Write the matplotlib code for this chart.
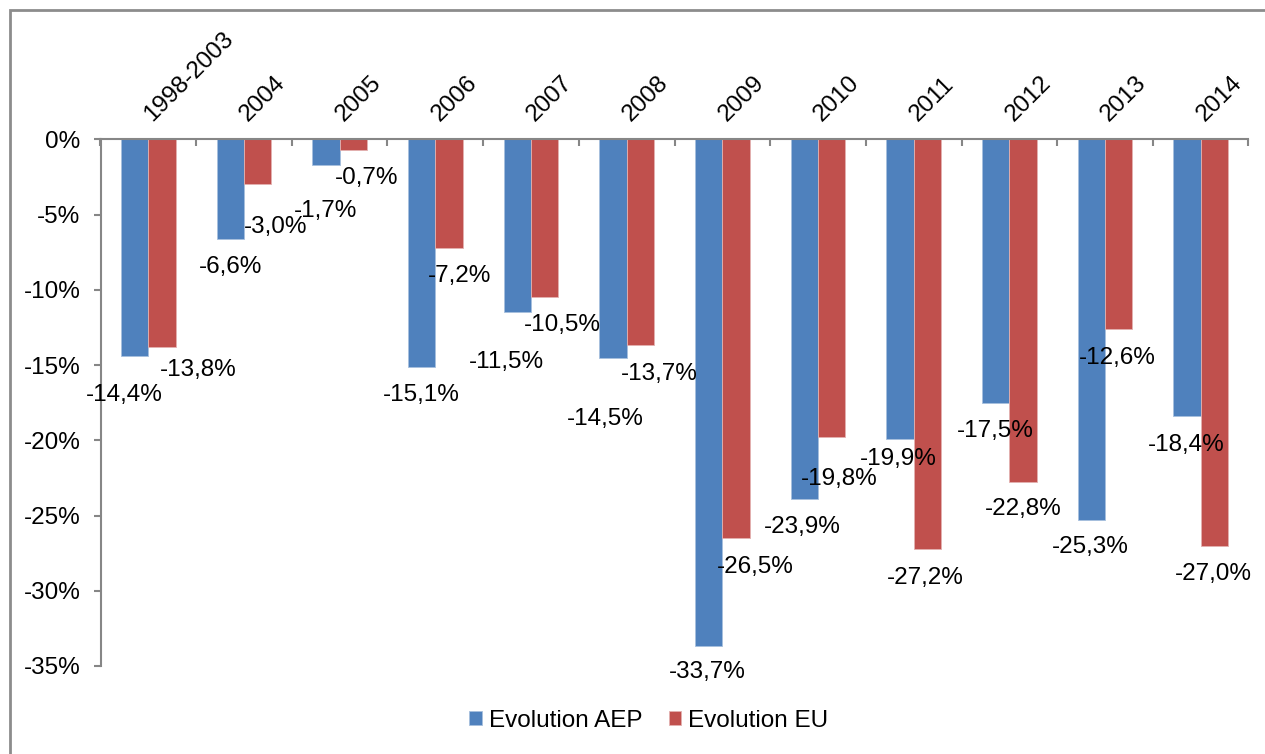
import matplotlib
matplotlib.use("Agg")
import matplotlib.pyplot as plt
from matplotlib.patches import Rectangle
import numpy as np

categories = ['1998-2003', '2004', '2005', '2006', '2007', '2008',
              '2009', '2010', '2011', '2012', '2013', '2014']
evolution_aep = [-14.4, -6.6, -1.7, -15.1, -11.5, -14.5, -33.7, -23.9, -19.9, -17.5, -25.3, -18.4]
evolution_eu = [-13.8, -3.0, -0.7, -7.2, -10.5, -13.7, -26.5, -19.8, -27.2, -22.8, -12.6, -27.0]
series_names = ['Evolution AEP', 'Evolution EU']
yticks = [0, -5, -10, -15, -20, -25, -30, -35]

# label offsets (pixels: dx, dy downward) as placed in the reference
aep_label_off = [(-10, 39), (0, 28), (0, 46), (0, 28), (-11, 50), (-8, 61),
                 (-1, 26), (-1.5, 28), (-2, 20), (0, 28), (-1, 27), (-1, 29)]
eu_label_off = [(36, 23), (18, 43), (13, 28.5), (10.7, 28), (18, 28), (19, 29),
                (19, 29), (8, 42), (-2, 29), (0, 27), (-1, 29), (-1, 28)]

plt.rcParams['font.family'] = ['Liberation Sans', 'DejaVu Sans']
FS = 17.5

W, H = 1265, 754
fig = plt.figure(figsize=(W / 100, H / 100), dpi=100)
ax = fig.add_axes([100.5 / W, 1 - 666 / H, (1248.5 - 100.5) / W, (666 - 139.3) / H])

blue = '#4F81BD'
red = '#C0504D'
x = np.arange(len(categories))
bw = 0.287
off = 0.1435
ax.bar(x - off, evolution_aep, bw, color=blue, edgecolor='#A7C0DE', linewidth=0.6, label=series_names[0])
ax.bar(x + off, evolution_eu, bw, color=red, edgecolor='#E3B1B0', linewidth=0.6, label=series_names[1])

def fmt(v):
    return f"{v:.1f}%".replace('.', ',')

for i in range(len(categories)):
    dx, dy = aep_label_off[i]
    ax.annotate(fmt(evolution_aep[i]), xy=(x[i] - off, evolution_aep[i]), xytext=(dx, -dy),
                textcoords='offset pixels', ha='center', va='center', fontsize=FS, color='black',
                annotation_clip=False)
    dx, dy = eu_label_off[i]
    ax.annotate(fmt(evolution_eu[i]), xy=(x[i] + off, evolution_eu[i]), xytext=(dx, -dy),
                textcoords='offset pixels', ha='center', va='center', fontsize=FS, color='black',
                annotation_clip=False)
    # category labels above the axis
    ax.annotate(categories[i], xy=(x[i], 0), xytext=(4, 17), textcoords='offset pixels',
                ha='left', va='baseline', rotation=45, rotation_mode='anchor',
                fontsize=FS, color='black', annotation_clip=False)

ax.set_xlim(-0.5, len(categories) - 0.5)
ax.set_ylim(-35, 0)
ax.set_yticks(yticks)
ax.set_yticklabels([f"{t}%" for t in yticks], fontsize=FS)

axis_col = '#868686'
for s in ['right', 'bottom']:
    ax.spines[s].set_visible(False)
for s in ['left', 'top']:
    ax.spines[s].set_color(axis_col)
    ax.spines[s].set_linewidth(1.5)

ax.xaxis.tick_top()
ax.set_xticks(np.arange(-0.5, len(categories), 1.0))
ax.tick_params(axis='x', top=True, bottom=False, direction='in', length=5, width=1.5,
               color=axis_col, labeltop=False, labelbottom=False)
ax.tick_params(axis='y', direction='out', length=5, width=1.5, color=axis_col, pad=9.4)

leg = fig.legend(loc='center', bbox_to_anchor=(649 / W, 1 - 721 / H), ncol=2, frameon=False,
                 fontsize=FS, handlelength=0.5, handleheight=0.5, handletextpad=0.3,
                 columnspacing=1.1)

# outer chart frame (partially cropped)
fig.patches.append(Rectangle((10 / W, -0.2), 1.5, 1.2 - 10 / H, transform=fig.transFigure,
                             fill=False, edgecolor='#8C8C8C', linewidth=2, clip_on=False))

fig.savefig('out.png', dpi=100)
